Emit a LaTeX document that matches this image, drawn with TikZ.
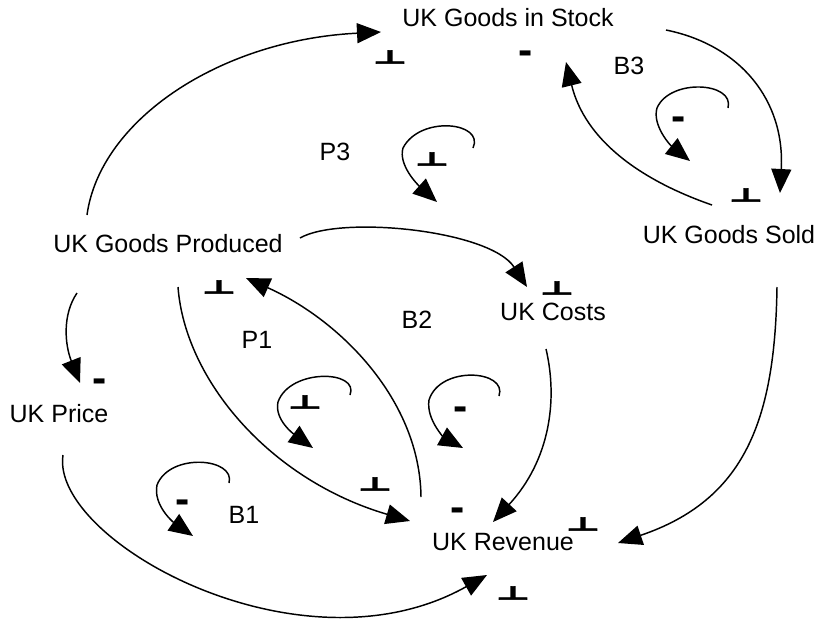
\documentclass[tikz,border=0pt]{standalone}
\usepackage{fontspec}
\setmainfont{Liberation Sans}
\newfontfamily\signfont[FakeBold=3]{DejaVu Sans Bold}
\usepackage{graphicx}
\usetikzlibrary{arrows.meta,calc}

\tikzset{
  var/.style={inner sep=0pt, text height=0.72em, text depth=0pt, font=\fontsize{18.75}{22}\selectfont},
  link/.style={line width=1.1pt, -{Triangle[length=18pt,width=15pt]}},
  plus/.style={inner sep=0pt, font=\signfont\fontsize{28}{28}\selectfont},
  minus/.style={inner sep=0pt, anchor=base, font=\bfseries\fontsize{32}{32}\selectfont},
}
\newcommand{\pos}{\scalebox{1}[0.5]{⊥}}

\begin{document}
\begin{tikzpicture}[x=0.75pt,y=0.75pt,yscale=-1,xscale=1]
\useasboundingbox (0,0) rectangle (818,619);

% Text Node
\node[var] (stock) at (508,22) {UK Goods in Stock};
% Text Node
\node[var] (sold) at (729,239) {UK Goods Sold};
% Text Node
\node[var] (prod) at (168,248) {UK Goods Produced};
% Text Node
\node[var] (costs) at (553,316) {UK Costs};
% Text Node
\node[var] (price) at (59,418) {UK Price};
% Text Node
\node[var] (rev) at (503,546) {UK Revenue};

% Text Node
\node[var] (b3) at (629,70) {B3};
% Text Node
\node[var] (p3) at (335,156) {P3};
% Text Node
\node[var] (b2) at (417,324) {B2};
% Text Node
\node[var] (p1) at (257,344) {P1};
% Text Node
\node[var] (b1) at (244,519) {B1};

%Curve Lines
\draw[link] ($(prod)+(-81,-33)$) .. controls (100,120) and (220,40) .. ($(stock)+(-127,10)$);
%Curve Lines
\draw[link] ($(stock)+(158,8)$) .. controls (740,45) and (785,100) .. ($(sold)+(51,-46)$);
%Curve Lines
\draw[link] ($(sold)+(-17,-34)$) .. controls (640,180) and (585,140) .. ($(stock)+(58,40)$);
%Curve Lines
\draw[link] ($(prod)+(132,-10)$) .. controls (340,215) and (490,230) .. ($(costs)+(-26,-29)$);
%Curve Lines
\draw[link] ($(rev)+(-82,-49)$) .. controls (420,400) and (340,320) .. ($(prod)+(78,30)$);
%Curve Lines
\draw[link] ($(prod)+(10,39)$) .. controls (185,380) and (270,480) .. ($(rev)+(-93,-25)$);
%Curve Lines
\draw[link] ($(costs)+(-7,33)$) .. controls (558,400) and (550,460) .. ($(rev)+(-10,-24)$);
%Curve Lines
\draw[link] ($(sold)+(48,48)$) .. controls (775,420) and (745,500) .. ($(rev)+(115,-3)$);
%Curve Lines
\draw[link] ($(price)+(4,37)$) .. controls (50,540) and (300,680) .. ($(rev)+(-16,29)$);
%Curve Lines
\draw[link] ($(prod)+(-91,45)$) .. controls (62,315) and (65,345) .. ($(price)+(21,-35)$);

%Loop B3
\draw[link] (728,108) .. controls (735,82) and (670,78) .. (657,108) .. controls (652,125) and (670,145) .. (690,161);
%Loop P3
\draw[link] (473,148) .. controls (485,122) and (420,115) .. (403,148) .. controls (398,165) and (418,185) .. (437,202);
%Loop B2
\draw[link] (499,396) .. controls (508,370) and (440,365) .. (429,400) .. controls (426,420) and (445,438) .. (463,448);
%Loop P1
\draw[link] (350,395) .. controls (360,370) and (290,368) .. (278,402) .. controls (274,420) and (295,435) .. (313,448);
%Loop B1
\draw[link] (229,483) .. controls (236,458) and (170,452) .. (157,485) .. controls (153,505) and (173,522) .. (193,536);

% Polarity Nodes
\node[plus] (sgnProdStock) at (390,57) {\pos};
\node[minus] (sgnSoldStock) at (526,64) {-};
\node[minus] (sgnB3) at (679,130) {-};
\node[plus] (sgnStockSold) at (746,195) {\pos};
\node[plus] (sgnP3) at (432,159) {\pos};
\node[plus] (sgnProdCosts) at (557,288) {\pos};
\node[plus] (sgnRevProd) at (219,287) {\pos};
\node[minus] (sgnProdPrice) at (100,392) {-};
\node[plus] (sgnP1) at (305,402) {\pos};
\node[minus] (sgnB2) at (461,420) {-};
\node[plus] (sgnProdRev) at (375,484) {\pos};
\node[minus] (sgnCostsRev) at (458,521) {-};
\node[plus] (sgnSoldRev) at (583,524) {\pos};
\node[plus] (sgnPriceRev) at (513,593) {\pos};
\node[minus] (sgnB1) at (183,513) {-};

\end{tikzpicture}
\end{document}
